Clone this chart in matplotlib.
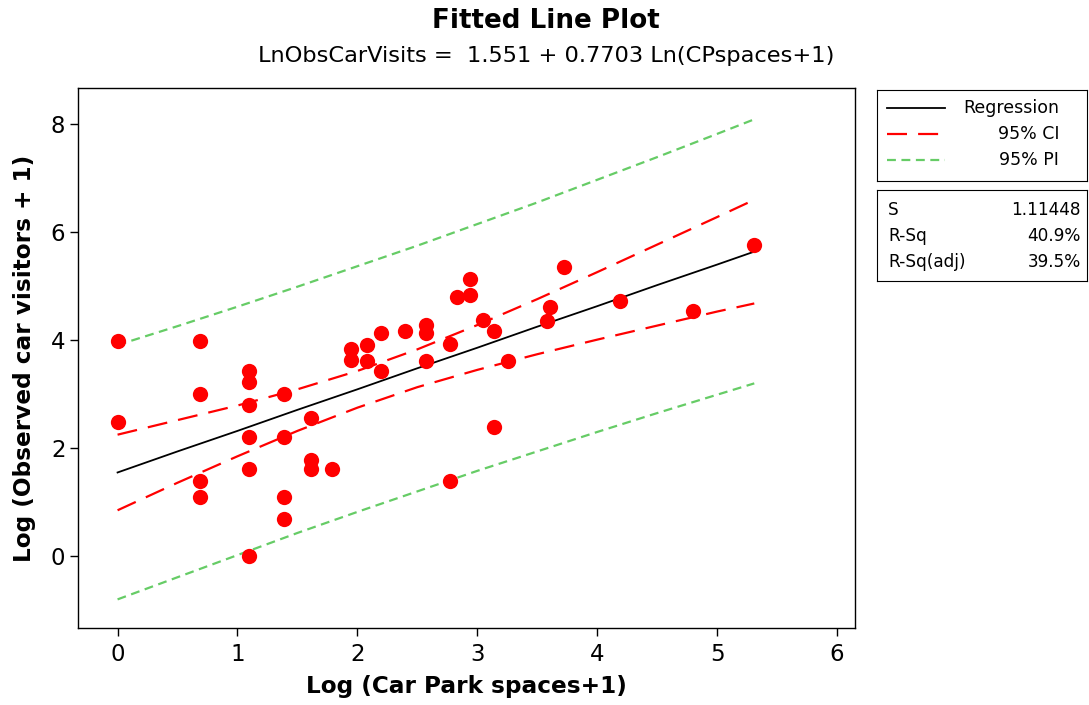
import matplotlib
matplotlib.use("Agg")
import matplotlib.pyplot as plt

# ---- data ----
x_obs = [0.00, 0.00,
         0.69, 0.69, 0.69, 0.69,
         1.10, 1.10, 1.10, 1.10, 1.10, 1.10,
         1.39, 1.39, 1.39, 1.39,
         1.61, 1.61, 1.61,
         1.79,
         1.95, 1.95,
         2.08, 2.08,
         2.20, 2.20,
         2.40,
         2.57, 2.57, 2.57,
         2.77, 2.77,
         2.83,
         2.94, 2.94,
         3.05,
         3.14, 3.14,
         3.26,
         3.58, 3.61, 3.72,
         4.19, 4.80, 5.31]
y_obs = [3.99, 2.49,
         3.99, 3.00, 1.39, 1.10,
         3.43, 3.22, 2.80, 2.20, 1.61, 0.00,
         3.00, 2.20, 1.10, 0.69,
         2.56, 1.79, 1.61,
         1.61,
         3.83, 3.64,
         3.91, 3.61,
         4.13, 3.43,
         4.17,
         4.29, 4.13, 3.61,
         3.93, 1.39,
         4.80,
         5.13, 4.83,
         4.38,
         4.17, 2.40,
         3.61,
         4.36, 4.62, 5.36,
         4.73, 4.54, 5.76]

x_fit = [0.0, 0.5, 1.0, 1.5, 2.0, 2.5, 3.0, 3.5, 4.0, 4.5, 5.0, 5.31]
reg = [1.55, 1.94, 2.32, 2.71, 3.09, 3.48, 3.86, 4.25, 4.63, 5.02, 5.40, 5.64]
ci_upper = [2.25, 2.52, 2.79, 3.09, 3.43, 3.83, 4.28, 4.76, 5.26, 5.77, 6.28, 6.60]
ci_lower = [0.85, 1.36, 1.85, 2.32, 2.75, 3.13, 3.45, 3.74, 4.01, 4.27, 4.53, 4.68]
pi_upper = [3.91, 4.26, 4.62, 4.99, 5.37, 5.75, 6.15, 6.55, 6.97, 7.39, 7.82, 8.09]
pi_lower = [-0.80, -0.39, 0.02, 0.43, 0.82, 1.20, 1.58, 1.94, 2.30, 2.65, 2.99, 3.20]

x_ticks = [0, 1, 2, 3, 4, 5, 6]
y_ticks = [0, 2, 4, 6, 8]

legend_labels = ["Regression", "95% CI", "95% PI"]
stat_names = ["S", "R-Sq", "R-Sq(adj)"]
stat_values = ["1.11448", "40.9%", "39.5%"]

title = "Fitted Line Plot"
subtitle = "LnObsCarVisits =  1.551 + 0.7703 Ln(CPspaces+1)"
xlabel = "Log (Car Park spaces+1)"
ylabel = "Log (Observed car visitors + 1)"

RED = "#FF0000"
GREEN = "#66CC66"

plt.rcParams["font.family"] = ["DejaVu Sans"]

W, H = 1089, 705
fig = plt.figure(figsize=(W / 100, H / 100), dpi=100)

def fx(px):
    return px / W

def fy(py):
    return 1 - py / H

ax = fig.add_axes([fx(78), fy(628), fx(855) - fx(78), fy(88) - fy(628)])

ax.plot(x_fit, pi_upper, color=GREEN, lw=1.6, dashes=(4, 2.5))
ax.plot(x_fit, pi_lower, color=GREEN, lw=1.6, dashes=(4, 2.5))
ax.plot(x_fit, ci_upper, color=RED, lw=1.6, dashes=(9, 5))
ax.plot(x_fit, ci_lower, color=RED, lw=1.6, dashes=(9, 5))
ax.plot(x_fit, reg, color="black", lw=1.3)
ax.plot(x_obs, y_obs, "o", color=RED, markersize=11, markeredgewidth=0, zorder=5)

ax.set_xlim(-0.33, 6.15)
ax.set_ylim(-1.33, 8.67)
ax.set_xticks(x_ticks)
ax.set_yticks(y_ticks)
ax.tick_params(direction="out", length=6, width=1, labelsize=16.5)
ax.tick_params(axis="x", pad=5)
ax.tick_params(axis="y", pad=3)
for sp in ax.spines.values():
    sp.set_linewidth(1)
ax.set_xlabel(xlabel, fontsize=16.7, fontweight="bold", labelpad=6)
ax.set_ylabel(ylabel, fontsize=16.7, fontweight="bold", labelpad=11)

fig.text(fx(546), fy(21), title, ha="center", va="center", fontsize=18.8, fontweight="bold")
fig.text(fx(546), fy(56), subtitle, ha="center", va="center", fontsize=16.2)

# legend box
lg = fig.add_axes([fx(877), fy(181), fx(1087) - fx(877), fy(90) - fy(181)])
lg.set_xlim(877, 1087)
lg.set_ylim(181, 90)
lg.set_xticks([])
lg.set_yticks([])
rows_y = [108, 134, 160]
styles = [dict(color="black", lw=1.3),
          dict(color=RED, lw=1.6, dashes=(9, 5)),
          dict(color=GREEN, lw=1.6, dashes=(4, 2.5))]
for yy, lab, st in zip(rows_y, legend_labels, styles):
    lg.plot([887, 945], [yy, yy], **st)
    lg.text(1059, yy, lab, ha="right", va="center", fontsize=12.5)

st_ax = fig.add_axes([fx(877), fy(281), fx(1087) - fx(877), fy(190) - fy(281)])
st_ax.set_xlim(877, 1087)
st_ax.set_ylim(281, 190)
st_ax.set_xticks([])
st_ax.set_yticks([])
for yy, n, v in zip([210, 236, 262], stat_names, stat_values):
    st_ax.text(888, yy, n, ha="left", va="center", fontsize=12.2)
    st_ax.text(1081, yy, v, ha="right", va="center", fontsize=12.2)

fig.savefig("out.png", dpi=100)
